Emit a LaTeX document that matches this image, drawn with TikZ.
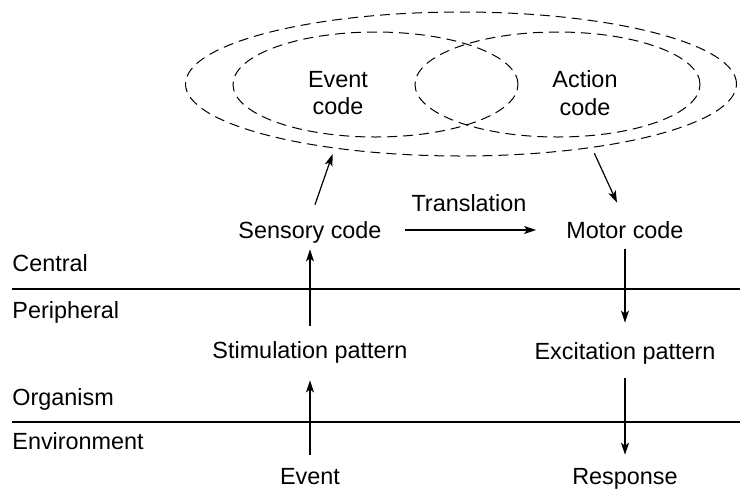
\documentclass[tikz,border=0pt]{standalone}
\usepackage{fontspec}
\setmainfont{Liberation Sans}
\usepackage{tikz}
\usetikzlibrary{shapes.geometric, arrows.meta}
\tikzstyle{label} = [inner sep=0pt, text height=8.2pt, text depth=0pt, font=\fontsize{11.7}{13.8}\selectfont]
\tikzstyle{codeOval} = [ellipse, draw=black, dashed, dash pattern=on 5pt off 3pt, line width=0.5pt, inner sep=0pt]
\tikzstyle{flow} = [-{Stealth[length=6pt, width=4pt, inset=1.5pt]}, line width=0.6pt]

\begin{document}
\begin{tikzpicture}[x=0.5pt, y=-0.5pt]
        \useasboundingbox (0,0) rectangle (740,488);
        \tikzstyle{divider} = [line width=0.6pt]

        \node[codeOval, minimum width=275.5pt, minimum height=72pt] (memory) at (461,84) {};
        \node[codeOval, minimum width=142.5pt, minimum height=52.5pt] (eventOval) at (375.5,84.5) {};
        \node[codeOval, minimum width=142.5pt, minimum height=52.5pt] (actionOval) at (557.5,84.5) {};
        \node[inner sep=0pt, align=center, font=\fontsize{11.7}{13.8}\selectfont] (eventCode) at (338,93) {Event\\code};
        \node[inner sep=0pt, align=center, font=\fontsize{11.7}{13.8}\selectfont] (actionCode) at (585,93) {Action\\code};

        \node[label] (sensoryCode) at (310,230) {Sensory code};
        \node[label] (motorCode) at (625,230) {Motor code};
        \node[label] (translation) at (469,203) {Translation};
        \node[label] (stimulation) at (310,350) {Stimulation pattern};
        \node[label] (excitation) at (625,351) {Excitation pattern};
        \node[label] (event) at (310,476.5) {Event};
        \node[label] (response) at (625,476.5) {Response};

        \node[label, anchor=west] (central) at (12,263) {Central};
        \node[label, anchor=west] (peripheral) at (12,310) {Peripheral};
        \node[label, anchor=west] (organism) at (12,397) {Organism};
        \node[label, anchor=west] (environment) at (12,441) {Environment};

        \draw[divider] (12,289) -- (740,289);
        \draw[divider] (12,422) -- (740,422);

        \draw[flow, shorten >=3pt] ([xshift=2.5pt, yshift=8.4pt]sensoryCode.north) -- (memory.207);
        \draw[flow, shorten <=3pt] (memory.334) -- ([xshift=-4pt, yshift=9.4pt]motorCode.north);
        \draw[flow, shorten <=11.3pt, shorten >=15pt] (sensoryCode.east) -- (motorCode.west);
        \draw[flow, shorten <=7.9pt, shorten >=5.4pt] (stimulation) -- (sensoryCode);
        \draw[flow, shorten <=6.6pt, shorten >=10.9pt] (event) -- (stimulation);
        \draw[flow, shorten <=5.4pt, shorten >=9.9pt] (motorCode) -- (excitation);
        \draw[flow, shorten <=9.4pt, shorten >=6.6pt] (excitation) -- (response);

    \end{tikzpicture}
\end{document}
